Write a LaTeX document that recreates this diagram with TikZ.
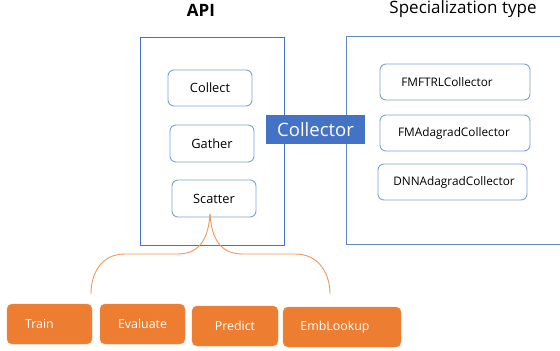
\documentclass[tikz,border=0pt]{standalone}
\usepackage{fontspec}
\setmainfont{Open Sans}
\definecolor{blueA}{HTML}{4472C4}
\definecolor{blueL}{HTML}{7F9FD8}
\definecolor{orng}{HTML}{ED7D31}
\begin{document}
\begin{tikzpicture}[x=1pt,y=-1pt,
  outer/.style={draw=blueA,line width=1pt},
  api/.style={draw=blueL,line width=0.9pt,rounded corners=6pt},
  apitxt/.style={font=\fontsize{12.8}{15}\selectfont},
  spectxt/.style={font=\fontsize{11.8}{14}\selectfont},
  act/.style={fill=orng,draw=orng!85!white,rounded corners=5pt,text=white,font=\fontsize{12.4}{14}\selectfont},
  brace/.style={draw=orng!80!white,line width=0.9pt}]
\useasboundingbox (0,0) rectangle (560,351);
\fill[white] (0,0) rectangle (560,351);
% titles
\node[font=\fontsize{17}{19}\selectfont\bfseries] (tapi) at (201,10) {API};
\node[font=\fontsize{17}{19}\selectfont] (tspec) at (463,9) {Specialization type};
% outer boxes
\draw[outer] (140,37) rectangle (284,245);
\draw[outer,draw=blueA!85!white] (346,36) -- (562,36) (346,36) -- (346,244) -- (562,244);
% API boxes
\draw[api] (168,70) rectangle (252,106);
\node[apitxt] (collect) at (210,88) {Collect};
\draw[api] (170,125) rectangle (254,162);
\node[apitxt] (gather) at (212,143.5) {Gather};
\draw[api] (172,180) rectangle (256,217);
\node[apitxt] (scatter) at (214,198.5) {Scatter};
% specialization boxes
\draw[api] (380,64) rectangle (530,100);
\node[spectxt] (fmftrl) at (447,82) {FMFTRLCollector};
\draw[api] (380,115) rectangle (530,151);
\node[spectxt] (fmada) at (454,133) {FMAdagradCollector};
\draw[api] (378,164) rectangle (527,200);
\node[spectxt] (dnn) at (454,182) {DNNAdagradCollector};
% collector label
\node[fill=blueA,text=white,minimum width=99pt,minimum height=29pt,inner sep=0pt,font=\fontsize{18.5}{20}\selectfont] (collector) at (315.5,129.5) {Collector};
% action boxes
\node[act,minimum width=85pt,minimum height=40pt] (train) at (49.5,324) {\hspace*{-20pt}Train};
\node[act,minimum width=85pt,minimum height=40pt] (eval) at (142.5,324) {Evaluate};
\node[act,minimum width=86pt,minimum height=40pt] (pred) at (235,326) {Predict};
\node[act,minimum width=118pt,minimum height=40pt] (emb) at (342,327) {\hspace*{-14pt}EmbLookup};
% brace
\coordinate (top) at (210,214);
\coordinate (lend) at (91,294);
\coordinate (rend) at (330,294);
\draw[brace] (top) .. controls (208,245) and (195,254) .. (177,254) -- (125,254) .. controls (100,254) and (91,275) .. (lend);
\draw[brace] (top) .. controls (212,245) and (225,254) .. (243,254) -- (295,254) .. controls (320,254) and (330,275) .. (rend);
\end{tikzpicture}
\end{document}
